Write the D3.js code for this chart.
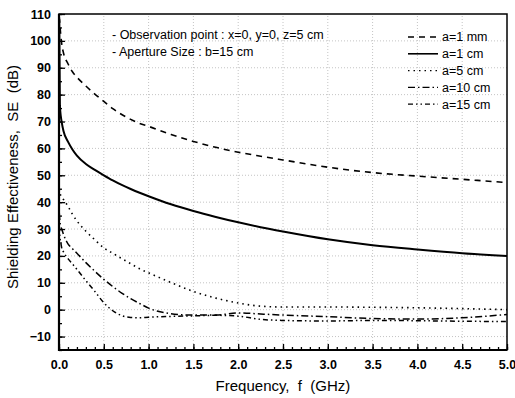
<!DOCTYPE html>
<html>
<head>
<meta charset="utf-8">
<script src="https://cdn.jsdelivr.net/npm/d3@7"></script>
<style>
  body { margin: 0; background: #fff; }
  text { font-family: "Liberation Sans", Arial, sans-serif; fill: #000; white-space: pre; }
</style>
</head>
<body>
<div id="chart"></div>
<script>
// frequency samples (GHz), shared by all curves
const freq = [0.003, 0.01, 0.02, 0.03, 0.05, 0.1, 0.15, 0.2, 0.3, 0.4, 0.5, 0.6, 0.7, 0.8, 0.9,
              1.0, 1.25, 1.5, 1.75, 2.0, 2.25, 2.5, 3.0, 3.5, 4.0, 4.5, 5.0];

// shielding effectiveness (dB)
const se1mm  = [109, 106, 102, 99, 95.5, 91.5, 88.5, 86.5, 83.2, 80.2, 77.5, 74.8, 72.6, 70.8, 69.3,
                68.2, 65.2, 62.6, 60.4, 58.6, 57.1, 55.7, 53.0, 51.0, 49.7, 48.5, 47.3];
const se1cm  = [108, 76, 72, 69.8, 66.5, 62.5, 59.6, 57.3, 54.2, 52, 50, 48.1, 46.4, 44.9, 43.5,
                42.2, 39.2, 36.7, 34.5, 32.5, 30.7, 29.1, 26.2, 24.0, 22.4, 21.0, 20.0];
const se5cm  = [45, 43.5, 42.5, 42, 41, 38.5, 35.5, 33, 29.2, 26, 23, 21, 19, 17.1, 15.2,
                13.7, 10.1, 6.8, 4.3, 2.5, 1.3, 1.0, 1.0, 0.9, 0.7, 0.4, 0.0];
const se10cm = [36, 33, 31, 30, 28, 24.5, 22.7, 21, 17.5, 14.3, 11.3, 8.6, 6.2, 4.1, 2.3,
                0.6, -1.5, -2.0, -2.0, -1.2, -1.6, -2.0, -2.6, -3.3, -3.5, -3.0, -1.8];
const se15cm = [31, 27, 25, 23, 21.5, 19, 17, 15, 10.8, 6.8, 2.6, -0.4, -2.2, -2.9, -3.0,
                -2.8, -2.5, -2.3, -2.1, -2.4, -3.6, -4.0, -4.2, -4.0, -4.1, -4.3, -4.4];

const labels = ['a=1 mm', 'a=1 cm', 'a=5 cm', 'a=10 cm', 'a=15 cm'];
const xTicks = [0, 0.5, 1, 1.5, 2, 2.5, 3, 3.5, 4, 4.5, 5];
const yTicks = [-10, 0, 10, 20, 30, 40, 50, 60, 70, 80, 90, 100, 110];
const notes = ['- Observation point : x=0, y=0, z=5 cm', '- Aperture Size : b=15 cm'];

const series = [se1mm, se1cm, se5cm, se10cm, se15cm];
const dashes = ['6,5', null, '1.5,4', '7,3,1.5,3', '5,3,1.5,3,1.5,3'];
const widths = [1.6, 2, 1.6, 1.5, 1.5];

const width = 515, height = 398;
const margin = { left: 59, right: 8, top: 14, bottom: 48 };

const svg = d3.select('#chart')
  .append('svg')
  .attr('width', width)
  .attr('height', height);

const x = d3.scaleLinear().domain([0, 5]).range([margin.left, width - margin.right]);
const y = d3.scaleLinear().domain([-15, 110]).range([height - margin.bottom, margin.top]);

// faint dotted grid
const grid = svg.append('g')
  .attr('stroke', '#c4c4c4')
  .attr('stroke-width', 1)
  .attr('stroke-dasharray', '1,2');
grid.selectAll('.gx')
  .data(xTicks.slice(1, -1))
  .enter().append('line')
  .attr('x1', d => x(d)).attr('x2', d => x(d))
  .attr('y1', y(-15)).attr('y2', y(110));
grid.selectAll('.gy')
  .data(yTicks.slice(0, -1))
  .enter().append('line')
  .attr('x1', x(0)).attr('x2', x(5))
  .attr('y1', d => y(d)).attr('y2', d => y(d));

// axes with inward ticks
const xAxis = d3.axisBottom(x).tickValues(xTicks).tickSizeInner(-6).tickSizeOuter(0)
  .tickFormat(d3.format('.1f')).tickPadding(10);
const xMinor = d3.axisBottom(x).tickValues(d3.range(0, 51).map(i => i / 10)).tickSize(-3).tickFormat('');
const yAxis = d3.axisLeft(y).tickValues(yTicks).tickSizeInner(-6).tickSizeOuter(0).tickPadding(8);
const yMinor = d3.axisLeft(y).tickValues(d3.range(-15, 111, 5)).tickSize(-3).tickFormat('');

svg.append('g').attr('transform', `translate(0,${y(-15)})`).call(xMinor);
svg.append('g').attr('transform', `translate(0,${y(-15)})`).call(xAxis);
svg.append('g').attr('transform', `translate(${x(0)},0)`).call(yMinor);
svg.append('g').attr('transform', `translate(${x(0)},0)`).call(yAxis);

svg.selectAll('.domain').remove();
svg.selectAll('.tick line').attr('stroke', '#000').attr('stroke-width', 1.3);
svg.selectAll('.tick text')
  .style('font-family', '"Liberation Sans", Arial, sans-serif')
  .style('font-size', '12.5px')
  .style('font-weight', 'bold')
  .attr('fill', '#000');

// frame
svg.append('rect')
  .attr('x', x(0)).attr('y', y(110))
  .attr('width', x(5) - x(0)).attr('height', y(-15) - y(110))
  .attr('fill', 'none').attr('stroke', '#000').attr('stroke-width', 1.5);
svg.append('path')
  .attr('d', `M${x(0)},${y(110)}V${y(-15)}H${x(5)}`)
  .attr('fill', 'none').attr('stroke', '#000').attr('stroke-width', 2.2);

// curves
const line = d3.line()
  .x((d, i) => x(freq[i]))
  .y(d => y(d))
  .curve(d3.curveMonotoneX);

svg.append('g').selectAll('path')
  .data(series)
  .enter().append('path')
  .attr('d', line)
  .attr('fill', 'none')
  .attr('stroke', '#000')
  .attr('stroke-width', (d, i) => widths[i])
  .attr('stroke-dasharray', (d, i) => dashes[i]);

// annotation
svg.append('g').selectAll('text')
  .data(notes)
  .enter().append('text')
  .attr('x', 112)
  .attr('y', (d, i) => 39 + i * 17)
  .style('font-size', '12.5px')
  .text(d => d);

// legend
const legend = svg.append('g').selectAll('g')
  .data(labels)
  .enter().append('g')
  .attr('transform', (d, i) => `translate(408,${37 + i * 16.8})`);
legend.append('line')
  .attr('x1', 0).attr('x2', 30)
  .attr('stroke', '#000')
  .attr('stroke-width', (d, i) => widths[i] * 0.8)
  .attr('stroke-dasharray', (d, i) => dashes[i]);
legend.append('text')
  .attr('x', 34).attr('dy', '0.35em')
  .style('font-size', '12.5px')
  .text(d => d);

// axis titles
svg.append('text')
  .attr('x', (x(0) + x(5)) / 2).attr('y', 391)
  .attr('text-anchor', 'middle')
  .style('font-size', '15px')
  .text('Frequency,  f  (GHz)');
svg.append('text')
  .attr('transform', 'translate(18,177) rotate(-90)')
  .attr('text-anchor', 'middle')
  .style('font-size', '15px')
  .text('Shielding Effectiveness,  SE  (dB)');
</script>
</body>
</html>
